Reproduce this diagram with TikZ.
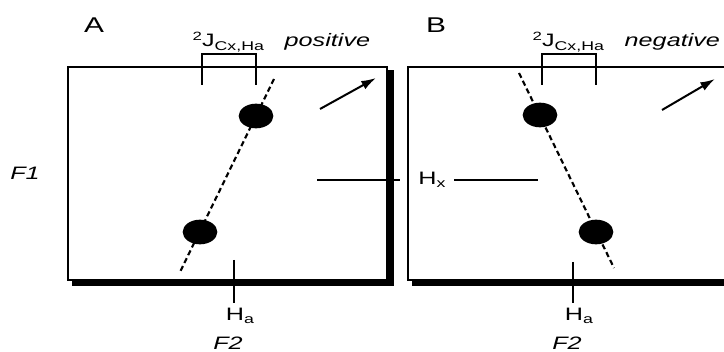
\documentclass[tikz,border=0pt]{standalone}
\usepackage{fontspec}
\setmainfont[FakeStretch=1.4]{Liberation Sans}
\usetikzlibrary{arrows.meta,positioning,shapes.geometric}
\newcommand\lowsub[1]{\raisebox{-2.5pt}{\fontsize{9.5}{10}\selectfont #1}}
\newcommand\highsup[1]{\raisebox{5pt}{\fontsize{9}{10}\selectfont #1}}
\newcommand\coupling{\highsup{2}J\lowsub{Cx,Ha}}

\begin{document}
\begin{tikzpicture}[x=0.75pt,y=-0.75pt,
   lab/.style={font=\fontsize{13.5}{15}\selectfont},
   tag/.style={font=\fontsize{16}{18}\selectfont},
   axis/.style={font=\fontsize{13.5}{15}\selectfont\itshape},
   spot/.style={ellipse,fill=black,minimum width=26pt,minimum height=18.5pt,inner sep=0pt},
   frame/.style={line width=1.5pt},
   shade/.style={line width=4.5pt},
   trace/.style={line width=1.6pt,dash pattern=on 4pt off 2.5pt},
   tick/.style={line width=1.3pt},
   tilt/.style={line width=1.5pt,-{Latex[length=11pt,width=7pt]}}]
  \useasboundingbox (0,0) rectangle (724,352);
  % panel A
  \draw[shade] (72,283) -- (391,283) -- (391,70);
  \draw[frame] (68,67) rectangle (387,280);
  \node[tag] (pA) at (94,25) {A};
  \node[lab,anchor=base west] (jA) at (188,47) {\coupling};
  \node[axis,anchor=base west] (signA) at (280,47) {positive};
  \draw[frame] (202,85) -- (202,54) -- (256,54) -- (256,85);
  \coordinate (tA1) at (274,79);
  \coordinate (tA2) at (180,272);
  \draw[trace] (tA1) -- (tA2);
  \node[spot] (dA1) at (256,116) {};
  \node[spot] (dA2) at (200,232) {};
  \coordinate (aA1) at (320,109);
  \coordinate (aA2) at (376,78);
  \draw[tilt] (aA1) -- (aA2);
  \node[lab] (haA) at (240,316) {H\lowsub{a}};
  \coordinate (tkA) at (234,260);
  \draw[tick] (tkA) -- (tkA |- haA.north);
  \node[axis] (ftA) at (228,343) {F2};
  \node[axis] (fOne) at (25,173) {F1};
  % panel B
  \draw[shade] (412,283) -- (730,283);
  \draw[frame] (730,67) -- (408,67) -- (408,280) -- (730,280);
  \node[tag] (pB) at (436,25) {B};
  \node[lab,anchor=base west] (jB) at (528,47) {\coupling};
  \node[axis,anchor=base west] (signB) at (620,47) {negative};
  \draw[frame] (542,85) -- (542,54) -- (596,54) -- (596,85);
  \coordinate (tB1) at (519,73);
  \coordinate (tB2) at (614,268);
  \draw[trace] (tB1) -- (tB2);
  \node[spot] (dB1) at (540,115) {};
  \node[spot] (dB2) at (596,232) {};
  \coordinate (aB1) at (662,110);
  \coordinate (aB2) at (715,79);
  \draw[tilt] (aB1) -- (aB2);
  \node[lab] (haB) at (579,316) {H\lowsub{a}};
  \coordinate (tkB) at (573,262);
  \draw[tick] (tkB) -- (tkB |- haB.north);
  \node[axis] (ftB) at (567,343) {F2};
  % shared H_x
  \node[lab] (hx) at (432,180) {H\lowsub{x}};
  \coordinate (hxA) at (317,180);
  \coordinate (hxB) at (538,180);
  \draw[tick,shorten >=10pt] (hxA) -- (hx);
  \draw[tick,shorten <=3pt] (hx) -- (hxB);
\end{tikzpicture}
\end{document}
